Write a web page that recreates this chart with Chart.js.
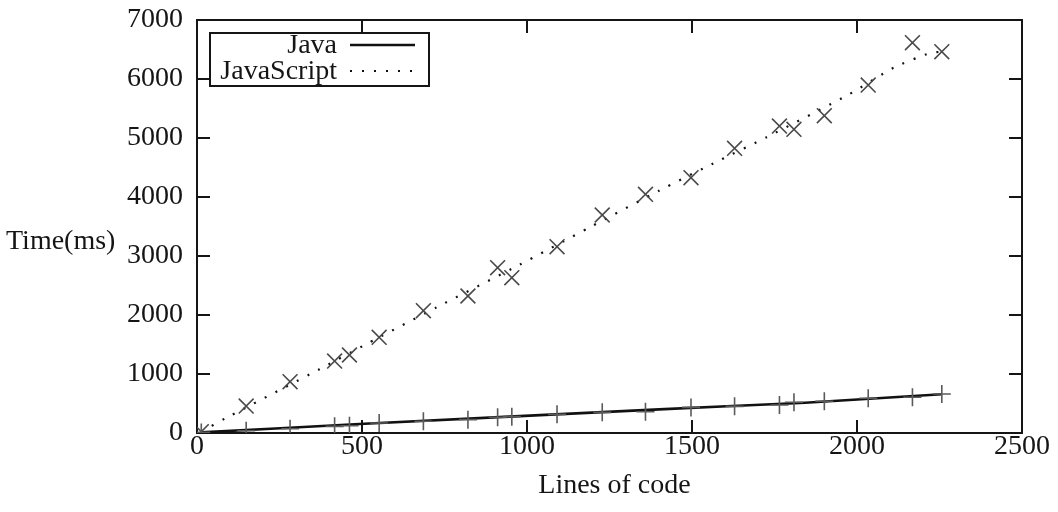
<!DOCTYPE html>
<html>
<head>
<meta charset="utf-8">
<script src="https://cdn.jsdelivr.net/npm/chart.js@4/dist/chart.umd.min.js"></script>
<style>
  html, body { margin: 0; padding: 0; background: #fff; }
  #wrap { width: 1058px; height: 512px; }
</style>
</head>
<body>
<div id="wrap"><canvas id="c" width="1058" height="512"></canvas></div>
<script>
// Measured programs: size in lines of code and run time in milliseconds
const linesOfCode = [13, 149, 282, 417, 462, 552, 686, 821, 911, 954, 1091, 1228, 1359, 1497, 1629, 1765, 1809, 1901, 2034, 2168, 2257];
const javaTimes   = [10, 39, 73, 113, 124, 169, 198, 226, 266, 277, 316, 350, 361, 434, 452, 475, 520, 537, 588, 605, 661];
const jsTimes     = [22, 457, 869, 1220, 1322, 1622, 2073, 2322, 2802, 2632, 3158, 3695, 4045, 4327, 4825, 5203, 5147, 5378, 5898, 6615, 6463];

// Smoothed trend curves
const javaTrendX = [13, 492, 1400, 1843, 2257];
const javaTrendY = [10, 152, 401, 514, 656];
const jsTrendX = [13, 86, 371, 512, 726, 976, 1188, 1400, 1581, 1725, 1976, 2113, 2221, 2257];
const jsTrendY = [22, 249, 1080, 1503, 2130, 2847, 3480, 4107, 4615, 5010, 5740, 6198, 6440, 6463];

// Axis ranges and tick labels
const xTicks = [0, 500, 1000, 1500, 2000, 2500];
const yTicks = [0, 1000, 2000, 3000, 4000, 5000, 6000, 7000];
const seriesNames = ['Java', 'JavaScript'];
const xTitle = 'Lines of code';
const yTitle = 'Time(ms)';

const FONT = "'Liberation Serif', 'DejaVu Serif', serif";
const FONT_SIZE = 28;
const INK = '#151515';

// Plot frame position on the canvas
const PLOT = { left: 197, top: 20, right: 1022, bottom: 433 };

const pairs = (xs, ys) => xs.map((x, i) => ({ x, y: ys[i] }));

// Frame with inward ticks on all four sides, plus axis titles
const framePlugin = {
  id: 'frame',
  beforeDatasetsDraw(chart) {
    const { ctx, chartArea: a, scales } = chart;
    const len = 13;
    ctx.save();
    ctx.strokeStyle = INK;
    ctx.lineWidth = 2;
    ctx.strokeRect(a.left, a.top, a.right - a.left, a.bottom - a.top);
    ctx.beginPath();
    yTicks.forEach(v => {
      const y = Math.round(scales.y.getPixelForValue(v));
      ctx.moveTo(a.left, y); ctx.lineTo(a.left + len, y);
      ctx.moveTo(a.right, y); ctx.lineTo(a.right - len, y);
    });
    xTicks.forEach(v => {
      const x = Math.round(scales.x.getPixelForValue(v));
      ctx.moveTo(x, a.bottom); ctx.lineTo(x, a.bottom - len);
      ctx.moveTo(x, a.top); ctx.lineTo(x, a.top + len);
    });
    ctx.stroke();
    ctx.restore();
  },
  afterDraw(chart) {
    const { ctx, chartArea: a } = chart;
    ctx.save();
    ctx.fillStyle = INK;
    ctx.font = FONT_SIZE + 'px ' + FONT;
    ctx.textBaseline = 'middle';
    ctx.textAlign = 'center';
    ctx.fillText(xTitle, (a.left + a.right) / 2 + 5, 486);
    ctx.textAlign = 'left';
    ctx.fillText(yTitle, 6, 242);
    ctx.restore();
  }
};

// Legend box in the upper left of the plot: label right-aligned, sample after it
const legendPlugin = {
  id: 'boxLegend',
  afterDatasetsDraw(chart) {
    const { ctx, chartArea: a } = chart;
    const box = { x: a.left + 13, y: a.top + 13, w: 219, h: 53 };
    ctx.save();
    ctx.strokeStyle = INK;
    ctx.lineWidth = 2;
    ctx.strokeRect(box.x, box.y, box.w, box.h);
    ctx.font = FONT_SIZE + 'px ' + FONT;
    ctx.fillStyle = INK;
    ctx.textAlign = 'right';
    ctx.textBaseline = 'middle';
    const textRight = box.x + 127;
    const sampleL = box.x + 140, sampleR = box.x + 205;
    chart.data.datasets.forEach(ds => {
      if (ds.legendRow === undefined) return;
      const cy = box.y + 13 + ds.legendRow * 26;
      ctx.fillText(ds.label, textRight, cy);
      ctx.beginPath();
      ctx.strokeStyle = ds.borderColor;
      ctx.lineWidth = ds.borderWidth;
      ctx.setLineDash(ds.borderDash || []);
      ctx.moveTo(sampleL, cy - 1);
      ctx.lineTo(sampleR, cy - 1);
      ctx.stroke();
    });
    ctx.restore();
  }
};

new Chart(document.getElementById('c'), {
  type: 'scatter',
  data: {
    datasets: [
      {
        label: seriesNames[0], legendRow: 0, type: 'line',
        data: pairs(javaTrendX, javaTrendY),
        borderColor: '#111', borderWidth: 2.6, pointRadius: 0, tension: 0.2, fill: false, order: 2
      },
      {
        label: seriesNames[1], legendRow: 1, type: 'line',
        data: pairs(jsTrendX, jsTrendY),
        borderColor: '#111', borderWidth: 2.2, borderDash: [2, 10], pointRadius: 0, tension: 0.2, fill: false, order: 2
      },
      {
        label: '', data: pairs(linesOfCode, javaTimes), showLine: false,
        pointStyle: 'cross', pointRadius: 9, pointBorderColor: '#5a5a5a', pointBorderWidth: 1.6,
        pointBackgroundColor: 'transparent', order: 1
      },
      {
        label: '', data: pairs(linesOfCode, jsTimes), showLine: false,
        pointStyle: 'crossRot', pointRadius: 10.5, pointBorderColor: '#4a4a4a', pointBorderWidth: 1.6,
        pointBackgroundColor: 'transparent', order: 1
      }
    ]
  },
  options: {
    responsive: false,
    animation: false,
    devicePixelRatio: 1,
    layout: { padding: { top: 0, right: 0, left: 0, bottom: 0 } },
    plugins: { legend: { display: false }, tooltip: { enabled: false } },
    scales: {
      x: {
        type: 'linear', min: 0, max: 2500,
        afterBuildTicks: s => { s.ticks = xTicks.map(v => ({ value: v })); },
        afterFit: s => { s.height = 512 - PLOT.bottom; s.paddingLeft = 0; s.paddingRight = 1058 - PLOT.right; },
        grid: { display: false, drawTicks: false },
        border: { display: false },
        ticks: { color: INK, font: { family: FONT, size: FONT_SIZE }, padding: -3, maxRotation: 0,
                 callback: v => String(v) }
      },
      y: {
        type: 'linear', min: 0, max: 7000,
        afterBuildTicks: s => { s.ticks = yTicks.map(v => ({ value: v })); },
        afterFit: s => { s.width = PLOT.left; s.paddingTop = PLOT.top; s.paddingBottom = 0; },
        grid: { display: false, drawTicks: false },
        border: { display: false },
        ticks: { color: INK, font: { family: FONT, size: FONT_SIZE }, padding: 14,
                 callback: v => String(v) }
      }
    }
  },
  plugins: [framePlugin, legendPlugin]
});
</script>
</body>
</html>
